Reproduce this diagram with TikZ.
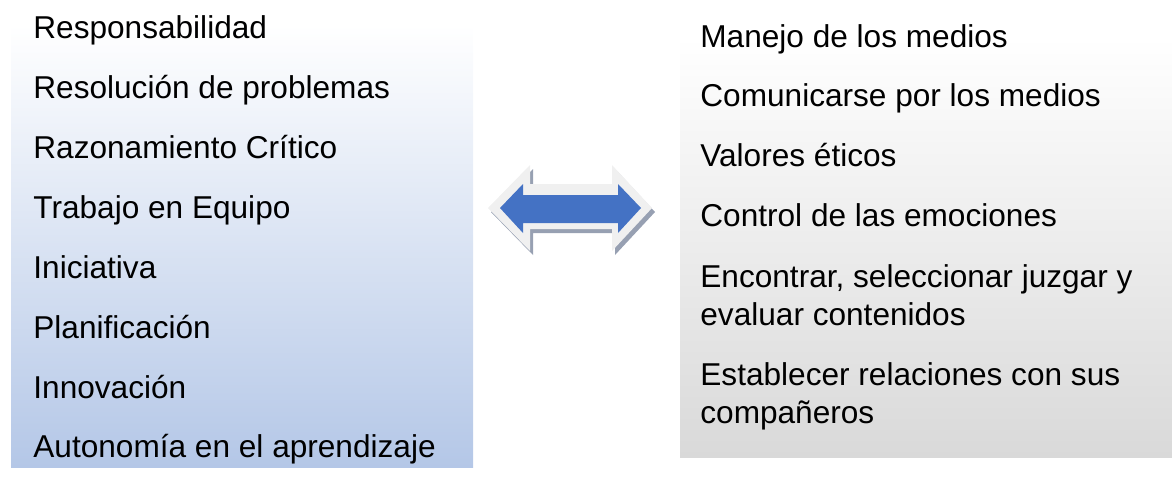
\documentclass[tikz,border=0pt]{standalone}
\usepackage{fontspec}
\setmainfont{Liberation Sans}
\definecolor{boxblue}{HTML}{B4C7E7}
\definecolor{boxgray}{HTML}{D9D9D9}
\definecolor{arrowblue}{HTML}{4472C4}
\definecolor{rim}{HTML}{F0F0F0}
\definecolor{rimshadow}{HTML}{97A0B2}
\tikzset{ item/.style = { anchor     = base west
                        , inner sep  = 0pt
                        , align      = left
                        , font       = \fontsize{15.8}{19}\selectfont
                        },
          rimline/.style = { fill = rim
                           , draw = none
                           }
        }

\begin{document}
\begin{tikzpicture}[x=0.5pt, y=-0.5pt]
          \useasboundingbox (0,0) rectangle (1172,478);
          % the two lists
          \shade[top color=white, bottom color=boxblue] (11,25) rectangle (473,467);
          \shade[top color=white, bottom color=boxgray] (680,37) rectangle (1172,457);
          \foreach \n/\y/\t in {1/38/Responsabilidad, 2/98/Resolución de problemas,
                               3/158/Razonamiento Crítico, 4/218/Trabajo en Equipo,
                               5/278/Iniciativa, 6/338/Planificación,
                               7/398/Innovación, 8/457/Autonomía en el aprendizaje} {
            \node[item] (l\n) at (33,\y) {\t};
          }
          % two-line items sit on their last line
          \foreach \n/\y/\t in {1/47/Manejo de los medios, 2/106/Comunicarse por los medios,
                               3/166/Valores éticos, 4/226/Control de las emociones,
                               5/325/{Encontrar, seleccionar juzgar y\\evaluar contenidos},
                               6/423/{Establecer relaciones con sus\\compañeros}} {
            \node[item] (r\n) at (700,\y) {\t};
          }
          % double arrow
          \fill[rimshadow] (491,212)--(533,169)--(533,188)--(615,188)--(615,169)--(655,212)
              --(615,255)--(615,233)--(533,233)--(533,255)--cycle;
          \path[rimline] (488,208)--(530,165)--(530,184)--(612,184)--(612,165)--(652,208)
              --(612,251)--(612,229)--(530,229)--(530,251)--cycle;
          \fill[arrowblue] (500,208)--(523,184)--(523,195)--(618,195)--(618,184)--(641,208)
              --(618,233)--(618,223)--(523,223)--(523,233)--cycle;
        \end{tikzpicture}
\end{document}
